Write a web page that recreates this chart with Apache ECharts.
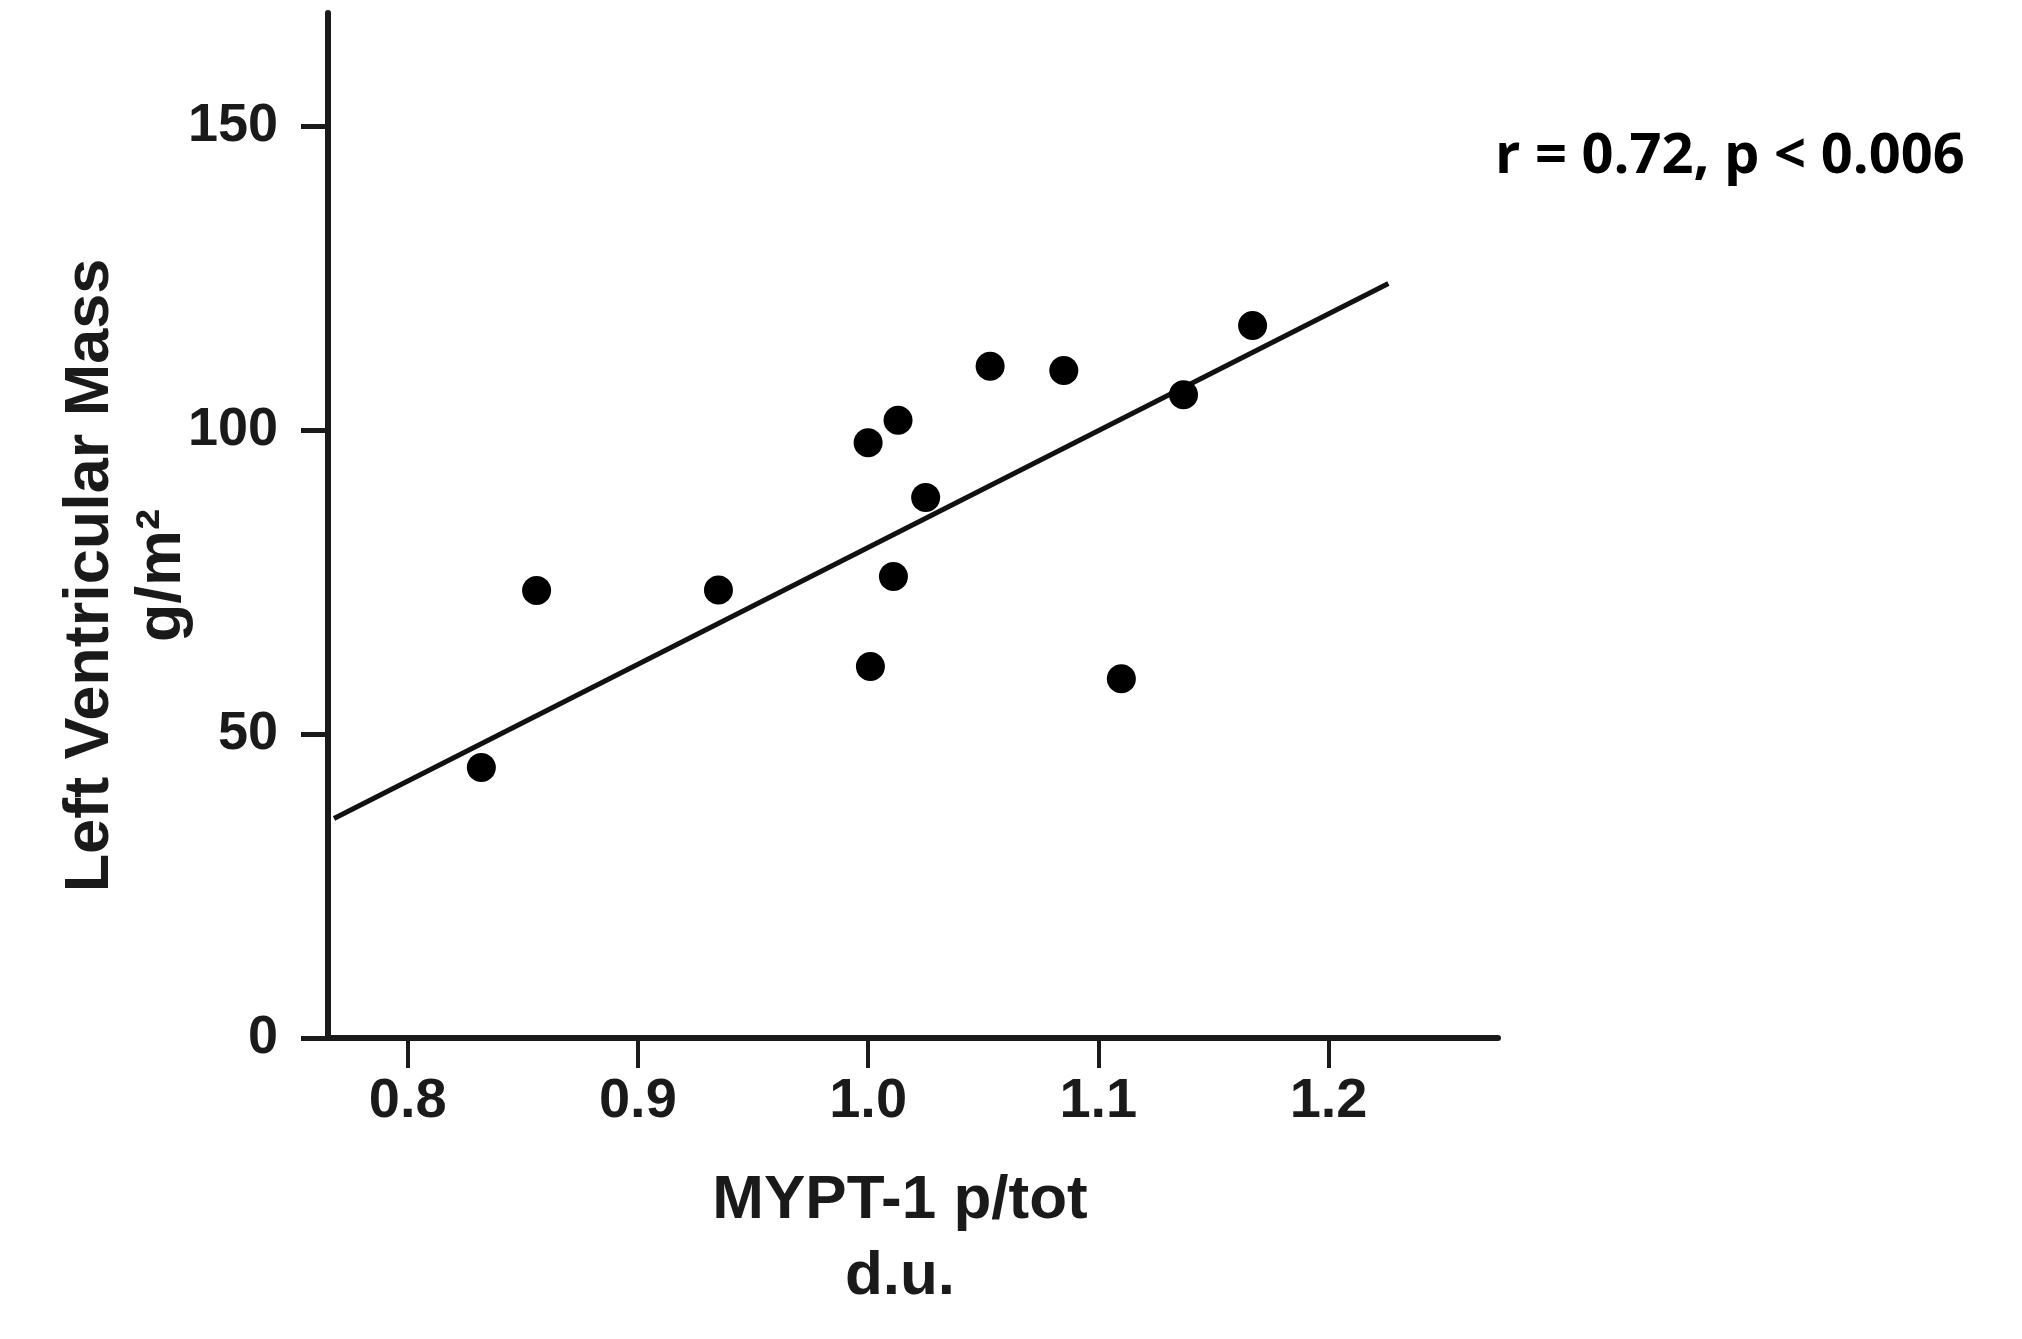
<!DOCTYPE html>
<html>
<head>
<meta charset="utf-8">
<title>LV mass vs MYPT-1 p/tot</title>
<script src="https://cdn.jsdelivr.net/npm/echarts@6/dist/echarts.min.js"></script>
<style>
  html, body { margin: 0; padding: 0; background: #fff; }
  #chart { width: 2022px; height: 1339px; }
</style>
</head>
<body>
<div id="chart"></div>
<script>
// MYPT-1 p/tot (d.u.) vs left ventricular mass (g/m2), one point per patient
const myptValues = [0.832, 0.856, 0.935, 1.000, 1.013, 1.025, 1.011, 1.001, 1.053, 1.085, 1.110, 1.137, 1.167];
const lvMassValues = [44.5, 73.6, 73.7, 97.9, 101.6, 88.9, 75.9, 61.1, 110.5, 109.8, 59.1, 105.8, 117.2];

// ends of the regression line
const fitX = [0.768, 1.226];
const fitY = [36.1, 124.1];

const xTicks = [0.8, 0.9, 1.0, 1.1, 1.2];
const yTicks = [0, 50, 100, 150];
const xRange = [0.7654, 1.2736];
const yRange = [0, 168.6];
const statsText = 'r = 0.72, p < 0.006';

const ink = '#1a1a1a';
const font = 'Liberation Sans';

const chart = echarts.init(document.getElementById('chart'));

const points = myptValues.map((x, i) => [x, lvMassValues[i]]);
const fitLine = fitX.map((x, i) => [x, fitY[i]]);

chart.setOption({
  animation: false,
  backgroundColor: '#fff',
  grid: {
    left: 328,
    top: 13,
    width: 1170,
    height: 1025
  },
  xAxis: {
    type: 'value',
    min: xRange[0],
    max: xRange[1],
    name: 'MYPT-1 p/tot\nd.u.',
    nameLocation: 'middle',
    nameGap: 125,
    nameMoveOverlap: false,
    nameTextStyle: {
      fontFamily: font,
      fontWeight: 'bold',
      fontSize: 62,
      lineHeight: 76,
      color: ink,
      padding: [0, 26, 0, 0]
    },
    axisLine: { lineStyle: { color: ink, width: 6 } },
    axisTick: {
      customValues: xTicks,
      length: 30,
      lineStyle: { color: ink, width: 4 }
    },
    axisLabel: {
      customValues: xTicks,
      margin: 36,
      fontFamily: font,
      fontWeight: 'bold',
      fontSize: 56,
      color: ink,
      formatter: v => v.toFixed(1)
    },
    splitLine: { show: false }
  },
  yAxis: {
    type: 'value',
    min: yRange[0],
    max: yRange[1],
    name: 'Left Ventricular Mass\ng/m²',
    nameLocation: 'middle',
    nameGap: 129,
    nameMoveOverlap: false,
    nameTextStyle: {
      fontFamily: font,
      fontWeight: 'bold',
      fontSize: 63,
      lineHeight: 72,
      color: ink,
      padding: [0, 100, 0, 0]
    },
    axisLine: { show: true, lineStyle: { color: ink, width: 6 } },
    axisTick: {
      show: true,
      customValues: yTicks,
      length: 27,
      lineStyle: { color: ink, width: 5 }
    },
    axisLabel: {
      customValues: yTicks,
      margin: 50,
      fontFamily: font,
      fontWeight: 'bold',
      fontSize: 54,
      color: ink
    },
    splitLine: { show: false }
  },
  graphic: [{
    type: 'text',
    x: 1495,
    y: 157,
    style: {
      text: statsText,
      fontFamily: 'Open Sans',
      fontWeight: 'bold',
      fontSize: 56,
      fill: '#000',
      textAlign: 'left',
      textVerticalAlign: 'middle'
    }
  }],
  series: [
    {
      name: 'fit',
      type: 'line',
      data: fitLine,
      symbol: 'none',
      lineStyle: { color: '#111', width: 5 },
      z: 2
    },
    {
      name: 'patients',
      type: 'scatter',
      data: points,
      symbol: 'circle',
      symbolSize: 29,
      itemStyle: { color: '#000', opacity: 1 },
      z: 3
    }
  ]
});
</script>
</body>
</html>
